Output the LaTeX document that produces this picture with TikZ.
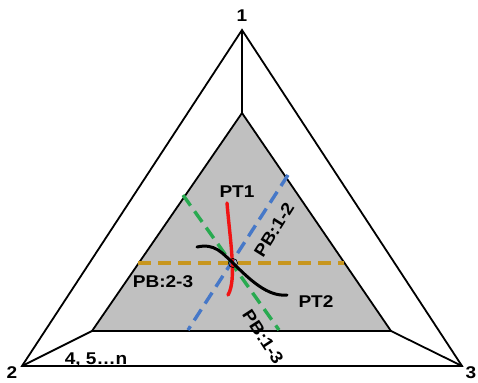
\documentclass[tikz,border=0pt]{standalone}
\usepackage{fontspec}
\setmainfont[FakeStretch=1.12]{Liberation Sans}
\definecolor{grayfill}{RGB}{192,192,192}
\definecolor{pbgold}{RGB}{200,150,30}
\definecolor{pbgreen}{RGB}{40,170,80}
\definecolor{pbblue}{RGB}{70,120,200}
\definecolor{ptred}{RGB}{240,20,20}
\begin{document}
\begin{tikzpicture}[x=1pt,y=-1pt,
  edge/.style={line width=1.8pt,line join=miter},
  pbline/.style={line width=3.4pt,dash pattern=on 13pt off 7pt},
  lbl/.style={font=\fontsize{17}{17}\selectfont\bfseries,inner sep=0pt},
  vlbl/.style={font=\fontsize{17}{17}\selectfont\bfseries,inner sep=0pt}]
\useasboundingbox (0,0) rectangle (478,382);
\fill[white] (0,0) rectangle (478,382);
% outer vertices
\coordinate (v1) at (242,30);
\coordinate (v2) at (22,366);
\coordinate (v3) at (462,366);
% inner (gray) vertices
\coordinate (g1) at (242,113);
\coordinate (g2) at (92,331);
\coordinate (g3) at (391,331);
\fill[grayfill] (g1) -- (g2) -- (g3) -- cycle;
\draw[edge] (v1) -- (v2) -- (v3) -- cycle;
\draw[edge] (g1) -- (g2) -- (g3) -- cycle;
\draw[edge] (v1) -- (g1);
\draw[edge] (v2) -- (g2);
\draw[edge] (v3) -- (g3);
% vertex labels
\node[vlbl] (n1) at (242,16) {1};
\node[vlbl] (n2) at (12,373) {2};
\node[vlbl] (n3) at (471,373) {3};
\node[lbl] (rest) at (96,360) {4, 5\ldots n};
% perpendicular bisectors
\coordinate (c) at (233,263);
\coordinate (o1) at (138,263);
\coordinate (o2) at (344,263);
\coordinate (gr1) at (183,195);
\coordinate (gr2) at (279,330);
\coordinate (bl1) at (288,175);
\coordinate (bl2) at (188,330);
\draw[pbline,pbgold] (o1) -- (o2);
\draw[pbline,pbgreen] (gr1) -- (gr2);
\draw[pbline,pbblue] (bl1) -- (bl2);
% paths
\coordinate (r1) at (227,203);
\coordinate (r2) at (228,295);
\draw[ptred,line width=3.4pt,line cap=round] (r1) .. controls (230,240) and (237,280) .. (r2);
\coordinate (k1) at (197,247);
\coordinate (k2) at (287,295);
\draw[black,line width=3pt,line cap=round] (k1) .. controls (215,243) and (222,253) .. (c) .. controls (250,280) and (268,297) .. (k2);
\draw[black,line width=0.7pt] (c) circle (4.5);
% labels
\node[lbl] (pt1) at (237,192) {PT1};
\node[lbl] (pt2) at (316,302) {PT2};
\node[lbl] (pb23) at (163,282) {PB:2-3};
\node[lbl,rotate=58] (pb12) at (274,230) {PB:1-2};
\node[lbl,rotate=-57] (pb13) at (263,337) {PB:1-3};
\end{tikzpicture}
\end{document}
